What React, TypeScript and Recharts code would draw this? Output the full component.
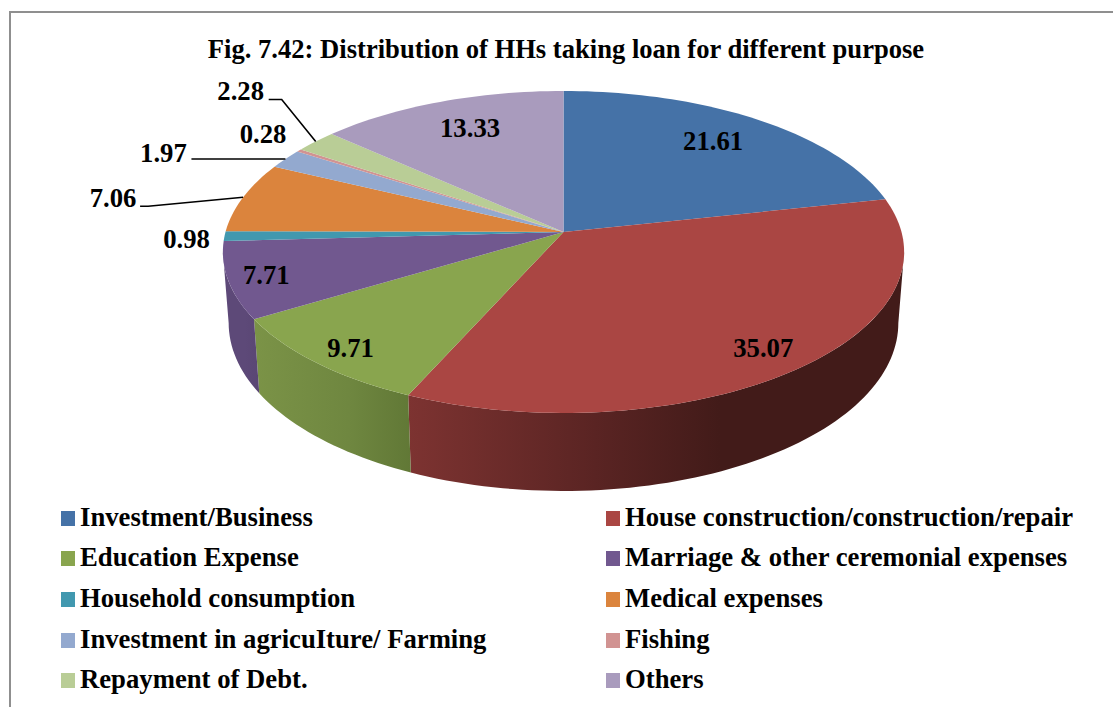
import React from "react";
import { PieChart, Pie, Legend } from "recharts";

const categories = [
  "Investment/Business",
  "House construction/construction/repair",
  "Education Expense",
  "Marriage & other ceremonial expenses",
  "Household consumption",
  "Medical expenses",
  "Investment in agricuIture/ Farming",
  "Fishing",
  "Repayment of Debt.",
  "Others",
];
const values = [21.61, 35.07, 9.71, 7.71, 0.98, 7.06, 1.97, 0.28, 2.28, 13.33];
const colors = ["#4572a7", "#aa4643", "#89a54e", "#71588f", "#4198af", "#db843d", "#93a9cf", "#d19392", "#b9cd96", "#a99bbd"];
const title = "Fig. 7.42: Distribution of HHs taking loan for different purpose";

const rows = categories.map((name, i) => ({ name, value: values[i], fill: colors[i] }));

// Style tables
const FONT = "'Liberation Serif', serif";
const labelNudges: [number, number][] = [[-44, 22], [-36, -20], [34, -15], [38, -5], [-38, 3], [-130, 1], [-122, -6], [-36, -17], [-75, -50], [30, 26]];
const leaders: Record<number, [number, number][]> = {
  5: [[-95, 9], [-103, 9]],
  6: [[-94, 0]],
  8: [[-34, -42], [-47, -42]],
};
const wallStops: Record<number, [string, string, string]> = {
  1: ["#7d3331", "#5a2423", "#421b19"],
  2: ["#7b9347", "#6f8740", "#617836"],
  3: ["#5d4978", "#5d4978", "#5a4674"],
};

const PERSP = 0.124;
const SQUASH = 0.469;
const RAD = Math.PI / 180;

// theta is clockwise from 12 o'clock in degrees
function project(cx: number, cy: number, R: number, theta: number, frac = 1) {
  const s = Math.sin(theta * RAD);
  const c = Math.cos(theta * RAD);
  const w = 1 + PERSP * frac * c;
  return { x: cx + (R * frac * s) / w, y: cy - (R * SQUASH * frac * c) / w };
}
function lower(cx: number, cy: number, R: number, theta: number) {
  const p = project(cx, cy, R, theta);
  const c = Math.cos(theta * RAD);
  return { x: cx + (p.x - cx) * 0.983, y: p.y + 70 - 8 * c };
}
const SIL_A = (Math.acos(-PERSP) / RAD);
const SIL_B = 360 - SIL_A;

function arcPoints(from: number, to: number, fn: (t: number) => { x: number; y: number }) {
  const n = Math.max(2, Math.ceil(Math.abs(to - from) / 1.5));
  const pts: { x: number; y: number }[] = [];
  for (let i = 0; i <= n; i++) pts.push(fn(from + ((to - from) * i) / n));
  return pts;
}
const fmt = (p: { x: number; y: number }) => `${p.x.toFixed(2)} ${p.y.toFixed(2)}`;

function Slice(props: any) {
  const { cx, cy, outerRadius: R, startAngle, endAngle, fill, index } = props;
  const t0 = 90 - startAngle;
  const t1 = 90 - endAngle;
  const top = arcPoints(t0, t1, (t) => project(cx, cy, R, t));
  const d = `M${cx} ${cy} L` + top.map(fmt).join(" L") + " Z";
  const w0 = Math.max(t0, SIL_A);
  const w1 = Math.min(t1, SIL_B);
  let wall: React.ReactNode = null;
  if (w1 > w0) {
    const upper = arcPoints(w0, w1, (t) => project(cx, cy, R, t));
    const low = arcPoints(w1, w0, (t) => lower(cx, cy, R, t));
    const wd = "M" + [...upper, ...low].map(fmt).join(" L") + " Z";
    const xs = [...upper, ...low].map((p) => p.x);
    const stops = wallStops[index] || [fill, fill, fill];
    const id = `wall-${index}`;
    const x1 = Math.min(...xs);
    const x2 = Math.max(...xs);
    const reversed = index === 1;
    wall = (
      <g>
        <defs>
          <linearGradient id={id} gradientUnits="userSpaceOnUse" x1={reversed ? 408 : x1} x2={reversed ? 720 : x2} y1={0} y2={0}>
            <stop offset="0" stopColor={stops[0]} />
            <stop offset="0.6" stopColor={stops[1]} />
            <stop offset="1" stopColor={stops[2]} />
          </linearGradient>
        </defs>
        <path d={wd} fill={`url(#${id})`} />
      </g>
    );
  }
  return (
    <g>
      {wall}
      <path d={d} fill={fill} />
    </g>
  );
}

function SliceLabel(props: any) {
  const { cx, cy, outerRadius: R, midAngle, index, value } = props;
  const rim = project(cx, cy, R, 90 - midAngle);
  const [dx, dy] = labelNudges[index];
  const chain = leaders[index];
  return (
    <g>
      {chain && (
        <polyline
          points={[rim, ...chain.map(([a, b]) => ({ x: rim.x + a, y: rim.y + b }))].map((p) => `${p.x},${p.y}`).join(" ")}
          fill="none"
          stroke="#000"
          strokeWidth={1.6}
        />
      )}
      <text x={rim.x + dx} y={rim.y + dy} textAnchor="middle" dominantBaseline="central" fontFamily={FONT} fontWeight={700} fontSize={26.7} fill="#000">
        {value.toFixed(2)}
      </text>
    </g>
  );
}

function LegendGrid() {
  return (
    <div style={{ position: "absolute", left: 0, top: 0, width: 1113, height: 707, pointerEvents: "none" }}>
      {rows.map((r, i) => {
        const col = i % 2;
        const row = Math.floor(i / 2);
        const cy = 516.5 + row * 40.7;
        return (
          <React.Fragment key={r.name}>
            <div style={{ position: "absolute", left: col ? 606 : 61, top: cy - 6, width: 14, height: 15, background: r.fill }} />
            <div style={{ position: "absolute", left: col ? 625 : 80, top: cy - 16, height: 32, lineHeight: "32px", whiteSpace: "nowrap", fontFamily: FONT, fontWeight: 700, fontSize: 26.7, color: "#000" }}>
              {r.name}
            </div>
          </React.Fragment>
        );
      })}
    </div>
  );
}

export default function App() {
  return (
    <div style={{ position: "absolute", left: 0, top: 0, width: 1113, height: 707, background: "#fff", overflow: "hidden" }}>
      <div style={{ position: "absolute", left: 9, top: 11, width: 1200, height: 800, border: "2px solid #8f8f8f", boxSizing: "border-box" }} />
      <div style={{ position: "absolute", left: 0, width: 1132, top: 34, textAlign: "center", fontFamily: FONT, fontWeight: 700, fontSize: 26.6, lineHeight: "30px", color: "#000", whiteSpace: "nowrap" }}>
        {title}
      </div>
      <PieChart width={1113} height={707} margin={{ top: 0, right: 0, bottom: 0, left: 0 }} style={{ position: "absolute", left: 0, top: 0 }}>
        <Pie
          data={rows}
          dataKey="value"
          nameKey="name"
          cx={563.5}
          cy={232}
          innerRadius={0}
          outerRadius={338}
          startAngle={90}
          endAngle={-270}
          stroke="none"
          isAnimationActive={false}
          shape={Slice}
          label={SliceLabel}
          labelLine={false}
          legendType="square"
        />
        <Legend content={LegendGrid} wrapperStyle={{ position: "absolute", left: 0, top: 0, width: 1113, height: 0 }} />
      </PieChart>
    </div>
  );
}
